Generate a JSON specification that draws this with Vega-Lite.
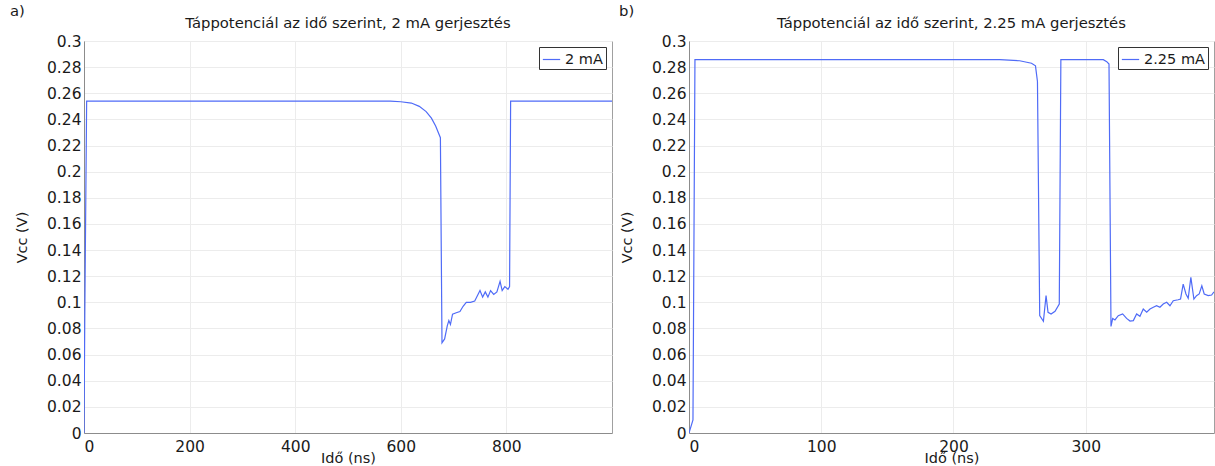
{
  "$schema": "https://vega.github.io/schema/vega-lite/v6.json",
  "background": "white",
  "padding": {"left": 9, "top": 3, "right": 0, "bottom": 0},
  "spacing": 5,
  "config": {
    "font": "DejaVu Sans",
    "view": {"stroke": "#a0a0a0", "strokeWidth": 1},
    "title": {"fontSize": 14.8, "fontWeight": "normal", "color": "#1a1a1a", "font": "DejaVu Sans"},
    "axis": {
      "labelFontSize": 15.5, "labelColor": "#1a1a1a", "titleFontSize": 14.5, "titleFontWeight": "normal", "titleColor": "#1a1a1a",
      "gridColor": "#ececec", "domainColor": "#8c8c8c", "ticks": false, "labelPadding": 3, "labelFont": "DejaVu Sans", "titleFont": "DejaVu Sans"
    },
    "axisX": {"titlePadding": -3, "labelPadding": 6},
    "axisY": {"titlePadding": 17},
    "legend": {
      "strokeColor": "#333", "fillColor": "white", "padding": 3, "cornerRadius": 0,
      "symbolType": "stroke", "symbolSize": 300, "symbolStrokeWidth": 1.2, "labelFontSize": 14.5, "labelColor": "#1a1a1a", "labelFont": "DejaVu Sans"
    }
  },
  "datasets": {
    "a": [
      {"t": 0, "v": 0, "s": "2 mA"}, {"t": 1.5, "v": 0.09, "s": "2 mA"}, {"t": 5, "v": 0.254, "s": "2 mA"},
      {"t": 580, "v": 0.254, "s": "2 mA"}, {"t": 600, "v": 0.2535, "s": "2 mA"}, {"t": 620, "v": 0.2525, "s": "2 mA"},
      {"t": 635, "v": 0.25, "s": "2 mA"}, {"t": 648, "v": 0.246, "s": "2 mA"}, {"t": 658, "v": 0.241, "s": "2 mA"},
      {"t": 666, "v": 0.235, "s": "2 mA"}, {"t": 675, "v": 0.226, "s": "2 mA"}, {"t": 678, "v": 0.069, "s": "2 mA"},
      {"t": 683, "v": 0.072, "s": "2 mA"}, {"t": 688, "v": 0.082, "s": "2 mA"}, {"t": 691, "v": 0.086, "s": "2 mA"},
      {"t": 694, "v": 0.083, "s": "2 mA"}, {"t": 698, "v": 0.091, "s": "2 mA"}, {"t": 705, "v": 0.092, "s": "2 mA"},
      {"t": 712, "v": 0.093, "s": "2 mA"}, {"t": 718, "v": 0.097, "s": "2 mA"}, {"t": 724, "v": 0.1, "s": "2 mA"},
      {"t": 732, "v": 0.1, "s": "2 mA"}, {"t": 740, "v": 0.101, "s": "2 mA"}, {"t": 745, "v": 0.105, "s": "2 mA"},
      {"t": 750, "v": 0.109, "s": "2 mA"}, {"t": 755, "v": 0.104, "s": "2 mA"}, {"t": 760, "v": 0.108, "s": "2 mA"},
      {"t": 765, "v": 0.104, "s": "2 mA"}, {"t": 770, "v": 0.109, "s": "2 mA"}, {"t": 776, "v": 0.106, "s": "2 mA"},
      {"t": 782, "v": 0.108, "s": "2 mA"}, {"t": 788, "v": 0.116, "s": "2 mA"}, {"t": 792, "v": 0.109, "s": "2 mA"},
      {"t": 797, "v": 0.112, "s": "2 mA"}, {"t": 803, "v": 0.11, "s": "2 mA"}, {"t": 806, "v": 0.112, "s": "2 mA"},
      {"t": 808, "v": 0.254, "s": "2 mA"}, {"t": 1000, "v": 0.254, "s": "2 mA"}
    ],
    "b": [
      {"t": 0, "v": 0, "s": "2.25 mA"}, {"t": 3, "v": 0.01, "s": "2.25 mA"}, {"t": 4.5, "v": 0.2857, "s": "2.25 mA"},
      {"t": 235, "v": 0.2857, "s": "2.25 mA"}, {"t": 250, "v": 0.2849, "s": "2.25 mA"}, {"t": 259, "v": 0.283, "s": "2.25 mA"},
      {"t": 262, "v": 0.281, "s": "2.25 mA"}, {"t": 263.5, "v": 0.269, "s": "2.25 mA"}, {"t": 265.2, "v": 0.0898, "s": "2.25 mA"},
      {"t": 268, "v": 0.0855, "s": "2.25 mA"}, {"t": 270, "v": 0.1051, "s": "2.25 mA"}, {"t": 271.5, "v": 0.0924, "s": "2.25 mA"},
      {"t": 273.8, "v": 0.0911, "s": "2.25 mA"}, {"t": 276.8, "v": 0.0931, "s": "2.25 mA"}, {"t": 280, "v": 0.0987, "s": "2.25 mA"},
      {"t": 281.2, "v": 0.2857, "s": "2.25 mA"}, {"t": 313.3, "v": 0.2857, "s": "2.25 mA"}, {"t": 315.9, "v": 0.2842, "s": "2.25 mA"},
      {"t": 317.6, "v": 0.2824, "s": "2.25 mA"}, {"t": 319.1, "v": 0.0816, "s": "2.25 mA"}, {"t": 320.4, "v": 0.0877, "s": "2.25 mA"},
      {"t": 322.1, "v": 0.0865, "s": "2.25 mA"}, {"t": 324.6, "v": 0.0898, "s": "2.25 mA"}, {"t": 327.9, "v": 0.0911, "s": "2.25 mA"},
      {"t": 330.9, "v": 0.0877, "s": "2.25 mA"}, {"t": 333.5, "v": 0.0857, "s": "2.25 mA"}, {"t": 336, "v": 0.086, "s": "2.25 mA"},
      {"t": 338.5, "v": 0.0911, "s": "2.25 mA"}, {"t": 341, "v": 0.0893, "s": "2.25 mA"}, {"t": 343.5, "v": 0.0949, "s": "2.25 mA"},
      {"t": 346.1, "v": 0.0924, "s": "2.25 mA"}, {"t": 348.6, "v": 0.0949, "s": "2.25 mA"}, {"t": 351.1, "v": 0.0962, "s": "2.25 mA"},
      {"t": 353.6, "v": 0.0974, "s": "2.25 mA"}, {"t": 356.1, "v": 0.0962, "s": "2.25 mA"}, {"t": 358.6, "v": 0.0987, "s": "2.25 mA"},
      {"t": 361.2, "v": 0.1, "s": "2.25 mA"}, {"t": 363.7, "v": 0.0974, "s": "2.25 mA"}, {"t": 366.2, "v": 0.1012, "s": "2.25 mA"},
      {"t": 369.9, "v": 0.102, "s": "2.25 mA"}, {"t": 371.7, "v": 0.1025, "s": "2.25 mA"}, {"t": 373.7, "v": 0.114, "s": "2.25 mA"},
      {"t": 375.8, "v": 0.1064, "s": "2.25 mA"}, {"t": 377.5, "v": 0.1031, "s": "2.25 mA"}, {"t": 379.5, "v": 0.1191, "s": "2.25 mA"},
      {"t": 381.8, "v": 0.1025, "s": "2.25 mA"}, {"t": 383.8, "v": 0.1051, "s": "2.25 mA"}, {"t": 385.8, "v": 0.1064, "s": "2.25 mA"},
      {"t": 387.8, "v": 0.1127, "s": "2.25 mA"}, {"t": 389.6, "v": 0.1064, "s": "2.25 mA"}, {"t": 392.6, "v": 0.1051, "s": "2.25 mA"},
      {"t": 395.2, "v": 0.1056, "s": "2.25 mA"}, {"t": 397, "v": 0.108, "s": "2.25 mA"}
    ]
  },
  "hconcat": [
    {
      "title": {"text": "a)", "anchor": "start", "frame": "bounds", "offset": -3, "dx": -4},
      "resolve": {"scale": {"color": "independent"}, "legend": {"color": "independent"}},
      "vconcat": [
        {
          "title": {"text": "Táppotenciál az idő szerint, 2 mA gerjesztés", "offset": 3},
          "width": 528, "height": 392,
          "data": {"name": "a"},
          "mark": {"type": "line", "strokeWidth": 1.2, "clip": true},
          "encoding": {
            "x": {"field": "t", "type": "quantitative", "scale": {"domain": [0, 1000], "nice": false, "zero": false},
                  "axis": {"values": [0, 200, 400, 600, 800], "title": "Idő (ns)"}},
            "y": {"field": "v", "type": "quantitative", "scale": {"domain": [0, 0.3], "nice": false},
                  "axis": {"values": [0, 0.02, 0.04, 0.06, 0.08, 0.1, 0.12, 0.14, 0.16, 0.18, 0.2, 0.22, 0.24, 0.26, 0.28, 0.3], "format": ".2~f", "title": "Vcc (V)"}},
            "color": {"field": "s", "type": "nominal", "scale": {"range": ["#4f6bf7"]},
                      "legend": {"orient": "top-right", "offset": 6, "title": null}}
          }
        }
      ]
    },
    {
      "title": {"text": "b)", "anchor": "start", "frame": "bounds", "offset": -3, "dx": 0},
      "resolve": {"scale": {"color": "independent"}, "legend": {"color": "independent"}},
      "vconcat": [
        {
          "title": {"text": "Táppotenciál az idő szerint, 2.25 mA gerjesztés", "offset": 3},
          "width": 525, "height": 392,
          "data": {"name": "b"},
          "mark": {"type": "line", "strokeWidth": 1.2, "clip": true},
          "encoding": {
            "x": {"field": "t", "type": "quantitative", "scale": {"domain": [0, 397], "nice": false, "zero": false},
                  "axis": {"values": [0, 100, 200, 300], "title": "Idő (ns)"}},
            "y": {"field": "v", "type": "quantitative", "scale": {"domain": [0, 0.3], "nice": false},
                  "axis": {"values": [0, 0.02, 0.04, 0.06, 0.08, 0.1, 0.12, 0.14, 0.16, 0.18, 0.2, 0.22, 0.24, 0.26, 0.28, 0.3], "format": ".2~f", "title": "Vcc (V)"}},
            "color": {"field": "s", "type": "nominal", "scale": {"range": ["#4f6bf7"]},
                      "legend": {"orient": "top-right", "offset": 6, "title": null}}
          }
        }
      ]
    }
  ],
  "resolve": {"scale": {"color": "independent"}, "legend": {"color": "independent"}}
}
